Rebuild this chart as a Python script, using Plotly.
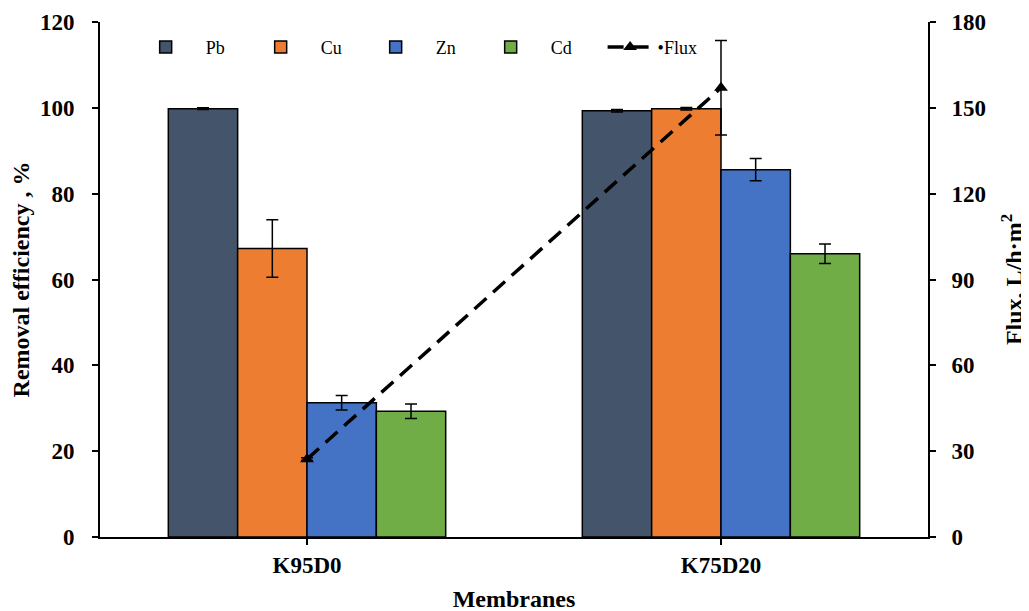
import plotly.graph_objects as go

membranes = ["K95D0", "K75D20"]
metals = ["Pb", "Cu", "Zn", "Cd"]
removal = {
    "Pb": [99.8, 99.3],
    "Cu": [67.2, 99.8],
    "Zn": [31.3, 85.6],
    "Cd": [29.3, 66.0],
}
removal_err = {
    "Pb": [0.2, 0.3],
    "Cu": [6.7, 0.3],
    "Zn": [1.7, 2.6],
    "Cd": [1.7, 2.3],
}
colors = {"Pb": "#44546A", "Cu": "#ED7D31", "Zn": "#4472C4", "Cd": "#70AD47"}
flux = [27.2, 157.0]
flux_err = [0.5, 16.5]

FONT = "Liberation Serif"

fig = go.Figure()
for m in metals:
    fig.add_trace(go.Bar(
        x=membranes, y=removal[m], name=m, legend="legend",
        marker=dict(color=colors[m], line=dict(color="black", width=1.5)),
        error_y=dict(type="data", array=removal_err[m], color="black", thickness=1.5, width=6),
    ))

fig.add_trace(go.Scatter(
    x=membranes, y=flux, name="•Flux", yaxis="y2", mode="lines+markers", legend="legend2",
    line=dict(color="black", width=3.5, dash="16px,9px"),
    marker=dict(symbol="triangle-up", size=12, color="black"),
    error_y=dict(type="data", array=flux_err, color="black", thickness=1.5, width=6),
))

fig.update_layout(
    width=1029, height=611,
    margin=dict(l=92, r=109, t=14, b=82),
    plot_bgcolor="white", paper_bgcolor="white",
    barmode="group", bargap=0.33, bargroupgap=0,
    font=dict(family=FONT, color="black", size=18),
    showlegend=True,
    legend=dict(orientation="h", x=0.031, y=0.951, xanchor="left", yanchor="middle",
                font=dict(family=FONT, size=18, color="black"),
                entrywidth=30, entrywidthmode="pixels", bgcolor="rgba(0,0,0,0)",
                itemwidth=70, traceorder="normal"),
    legend2=dict(orientation="h", x=0.607, y=0.951, xanchor="left", yanchor="middle",
                 font=dict(family=FONT, size=18, color="black"),
                 bgcolor="rgba(0,0,0,0)", itemwidth=45),
    xaxis=dict(
        title=dict(text="<b>Membranes</b>", font=dict(size=24, family=FONT), standoff=14),
        showline=True, linecolor="black", linewidth=2,
        ticks="outside", ticklen=6, tickwidth=2, tickcolor="black",
        tickfont=dict(size=23, family=FONT, weight="bold"),
        range=[-0.5, 1.5], showgrid=False, automargin=False,
    ),
    yaxis=dict(
        title=dict(text="<b>Removal efficiency , %</b>", font=dict(size=24, family=FONT), standoff=16),
        range=[0, 120], dtick=20, showline=True, linecolor="black", linewidth=2,
        ticks="outside", ticklen=6, tickwidth=2, tickcolor="black",
        tickfont=dict(size=23, family=FONT, weight="bold"), ticklabelstandoff=13,
        showgrid=False, zeroline=False, automargin=False,
    ),
    yaxis2=dict(
        title=dict(text="<b>Flux, L/h·m<sup>2</sup></b>", font=dict(size=24, family=FONT), standoff=20),
        overlaying="y", side="right",
        range=[0, 180], dtick=30, showline=True, linecolor="black", linewidth=2,
        ticks="outside", ticklen=6, tickwidth=2, tickcolor="black",
        tickfont=dict(size=23, family=FONT, weight="bold"), ticklabelstandoff=11,
        showgrid=False, zeroline=False, automargin=False,
    ),
)

fig.write_html("out.html")
